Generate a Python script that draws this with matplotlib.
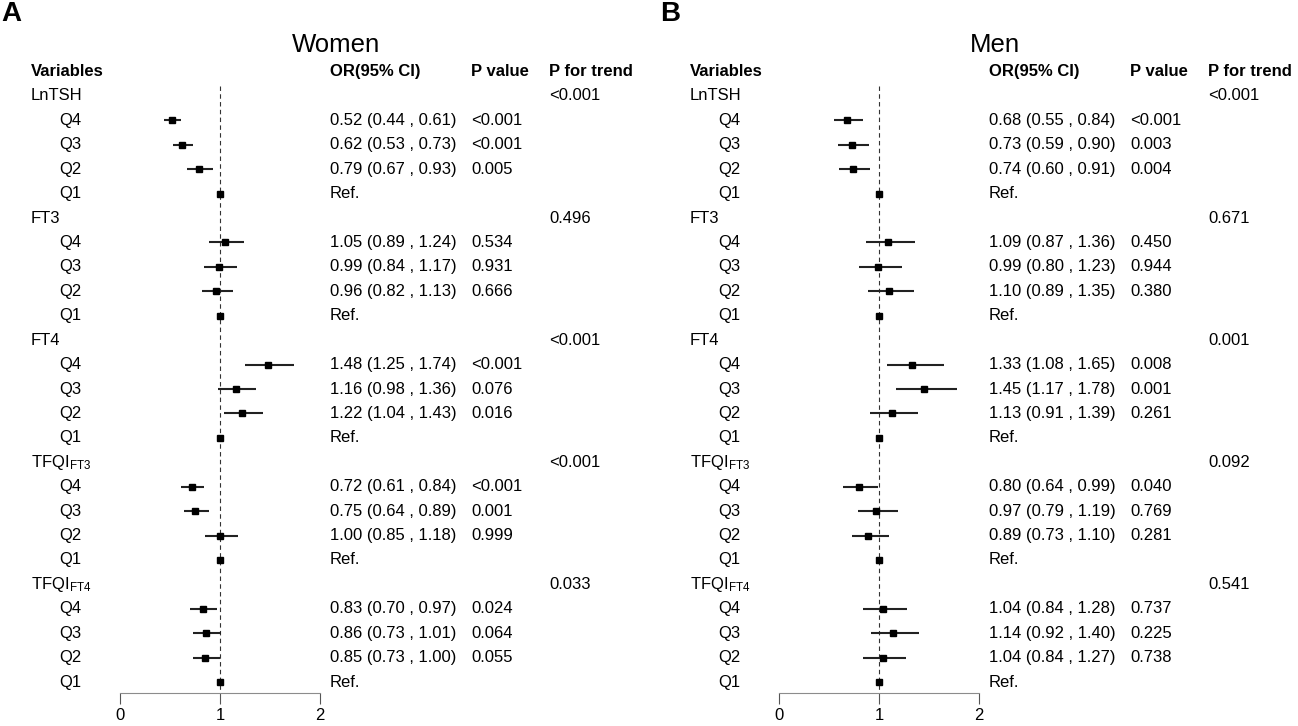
import numpy as np
import matplotlib
matplotlib.use("Agg")
from matplotlib import pyplot as plt
from matplotlib import transforms

plt.rcParams['font.family'] = ['Liberation Sans', 'DejaVu Sans']
plt.rcParams['mathtext.fontset'] = 'custom'
plt.rcParams['mathtext.rm'] = 'Liberation Sans'
plt.rcParams['mathtext.it'] = 'Liberation Sans:italic'
plt.rcParams['mathtext.bf'] = 'Liberation Sans:bold'

# data, one row per variable, columns Q4, Q3, Q2, Q1
groups = ["LnTSH", "FT3", "FT4", r"TFQI$_{\mathrm{FT3}}$", r"TFQI$_{\mathrm{FT4}}$"]
quartiles = ["Q4", "Q3", "Q2", "Q1"]

women_or = [[0.52, 0.62, 0.79, 1.00],
            [1.05, 0.99, 0.96, 1.00],
            [1.48, 1.16, 1.22, 1.00],
            [0.72, 0.75, 1.00, 1.00],
            [0.83, 0.86, 0.85, 1.00]]
women_lo = [[0.44, 0.53, 0.67, 1.00],
            [0.89, 0.84, 0.82, 1.00],
            [1.25, 0.98, 1.04, 1.00],
            [0.61, 0.64, 0.85, 1.00],
            [0.70, 0.73, 0.73, 1.00]]
women_hi = [[0.61, 0.73, 0.93, 1.00],
            [1.24, 1.17, 1.13, 1.00],
            [1.74, 1.36, 1.43, 1.00],
            [0.84, 0.89, 1.18, 1.00],
            [0.97, 1.01, 1.00, 1.00]]
women_p = [["<0.001", "<0.001", "0.005", ""],
           ["0.534", "0.931", "0.666", ""],
           ["<0.001", "0.076", "0.016", ""],
           ["<0.001", "0.001", "0.999", ""],
           ["0.024", "0.064", "0.055", ""]]
women_trend = ["<0.001", "0.496", "<0.001", "<0.001", "0.033"]

men_or = [[0.68, 0.73, 0.74, 1.00],
          [1.09, 0.99, 1.10, 1.00],
          [1.33, 1.45, 1.13, 1.00],
          [0.80, 0.97, 0.89, 1.00],
          [1.04, 1.14, 1.04, 1.00]]
men_lo = [[0.55, 0.59, 0.60, 1.00],
          [0.87, 0.80, 0.89, 1.00],
          [1.08, 1.17, 0.91, 1.00],
          [0.64, 0.79, 0.73, 1.00],
          [0.84, 0.92, 0.84, 1.00]]
men_hi = [[0.84, 0.90, 0.91, 1.00],
          [1.36, 1.23, 1.35, 1.00],
          [1.65, 1.78, 1.39, 1.00],
          [0.99, 1.19, 1.10, 1.00],
          [1.28, 1.40, 1.27, 1.00]]
men_p = [["<0.001", "0.003", "0.004", ""],
         ["0.450", "0.944", "0.380", ""],
         ["0.008", "0.001", "0.261", ""],
         ["0.040", "0.769", "0.281", ""],
         ["0.737", "0.225", "0.738", ""]]
men_trend = ["<0.001", "0.671", "0.001", "0.092", "0.541"]

W, H = 1298, 726
fig = plt.figure(figsize=(W / 100, H / 100), dpi=100)

FS = 12


def draw_panel(off, letter, title, ors, los, his, pvals, trends):
    """off - horizontal shift in pixels of the whole panel"""
    ax = fig.add_axes([(120 + off) / W, 1 - 693 / H, 200 / W, (693 - 60) / H])
    ax.set_xlim(0, 2)
    ax.set_ylim(24.45, -1.474)

    tr = transforms.blended_transform_factory(fig.transFigure, ax.transData)

    def col(px):
        return (px + off) / W

    # header
    for x, s in [(31, "Variables"), (330, "OR(95% CI)"), (471, "P value"), (549, "P for trend")]:
        ax.text(col(x), -1, s, transform=tr, fontsize=FS, fontweight="bold", va="center")

    ax.vlines(1, -0.4, 24.45, colors="#333333", lw=0.8, linestyles=(0, (4, 3)))

    for g in range(len(groups)):
        yg = 5 * g
        ax.text(col(31), yg, groups[g], transform=tr, fontsize=FS, va="center")
        ax.text(col(549), yg, trends[g], transform=tr, fontsize=FS, va="center")
        for q in range(4):
            y = yg + 1 + q
            ax.text(col(59), y, quartiles[q], transform=tr, fontsize=FS, va="center")
            if quartiles[q] == "Q1":
                txt = "Ref."
            else:
                txt = "%.2f (%.2f , %.2f)" % (ors[g][q], los[g][q], his[g][q])
                ax.hlines(y, los[g][q], his[g][q], colors="#222222", lw=1.5)
            ax.text(col(330), y, txt, transform=tr, fontsize=FS, va="center")
            ax.text(col(471), y, pvals[g][q], transform=tr, fontsize=FS, va="center")
            ax.plot(ors[g][q], y, "s", color="black", markersize=4.5, zorder=3)

    for s in ["top", "left", "right"]:
        ax.spines[s].set_visible(False)
    ax.spines["bottom"].set_color("#8c8c8c")
    ax.spines["bottom"].set_bounds(0, 2)
    ax.set_yticks([])
    ax.set_xticks([0, 1, 2])
    ax.set_xticklabels(["0", "1", "2"])
    ax.tick_params(axis="x", length=8, color="#555555", labelsize=FS, pad=3)
    ax.patch.set_visible(False)

    fig.text((1 + off) / W, 1 - 14 / H, letter, fontsize=20, fontweight="bold", va="center", ha="left")
    fig.text((336 + off) / W, 1 - 45 / H, title, fontsize=18.5, va="center", ha="center")


draw_panel(0, "A", "Women", women_or, women_lo, women_hi, women_p, women_trend)
draw_panel(659, "B", "Men", men_or, men_lo, men_hi, men_p, men_trend)

fig.savefig("out.png", dpi=100)
